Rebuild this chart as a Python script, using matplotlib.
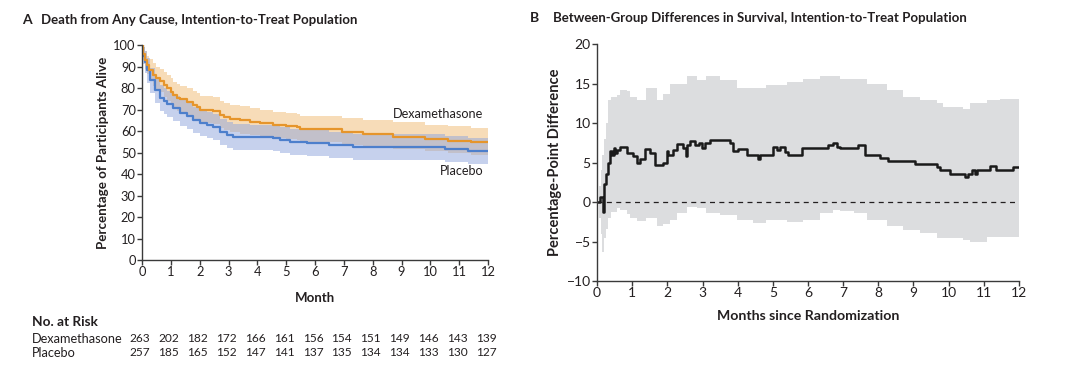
import numpy as np
import matplotlib
matplotlib.use("Agg")
import matplotlib.pyplot as plt
import matplotlib.transforms as mtransforms

plt.rcParams['font.family'] = ['Lato', 'DejaVu Sans']

# Panel A: Kaplan-Meier survival (percent alive), step knots
dex_months = [0, 0.05, 0.1, 0.16, 0.25, 0.39, 0.5, 0.62, 0.75, 0.86, 1.0, 1.09, 1.2, 1.32, 1.55,
              1.78, 1.9, 2.01, 2.47, 2.7, 2.85, 3.05, 3.4, 3.75, 4.1, 4.55, 5.0, 5.37, 5.48, 6.93,
              7.68, 8.7, 9.8, 10.6, 11.4, 12]
dex_surv = [100, 96, 93, 90.7, 88.5, 86, 84.5, 83.4, 81.5, 79.8, 78, 76.7, 75.5, 74.7, 73.6,
            72.1, 71, 69.8, 69.5, 67.4, 66.5, 65.6, 65, 64.3, 63.5, 62.8, 62.4, 62, 60.8, 59.7,
            58.5, 57.4, 56.3, 55.5, 54.7, 54.7]
dex_upper = [100, 99, 97, 95, 93.5, 91.5, 90, 89, 87.5, 86, 84.5, 83, 82, 81, 80,
             78.5, 77.5, 76.5, 76, 74, 73, 72, 71.5, 70.5, 70, 69, 68.5, 68, 67, 66,
             65, 64, 63, 62.3, 61.5, 61.5]
dex_lower = [100, 93, 89, 86.5, 84, 81, 79.5, 78, 76, 74, 72, 70.5, 69.5, 68.5, 67.2,
             65.8, 64.6, 63.5, 63.2, 61.2, 60.3, 59.4, 58.8, 58.1, 57.4, 56.7, 56.3, 55.9, 54.7, 53.6,
             52.5, 51.5, 50.5, 49.7, 49, 49]

pla_months = [0, 0.05, 0.1, 0.16, 0.28, 0.45, 0.62, 0.75, 0.86, 1.09, 1.32, 1.55, 1.78, 2.01, 2.24,
              2.47, 2.7, 2.94, 3.17, 3.75, 4.55, 4.79, 5.13, 5.71, 6.5, 7.3, 10.5, 11.3, 12]
pla_surv = [100, 95, 92, 88.4, 83.7, 79, 75.2, 73.8, 72.6, 70.5, 68.2, 67, 65.1, 63.6, 62.8,
            61.7, 59.7, 58.1, 57.3, 57, 56.6, 55.8, 55, 54.3, 53.5, 52.7, 51.6, 50.8, 50.8]
pla_upper = [100, 99, 97, 94, 89.5, 85, 81.3, 79.8, 78.6, 76.5, 74.2, 73, 71.1, 69.6, 68.8,
             67.7, 65.7, 64.1, 63.3, 63, 62.6, 61.8, 61, 60.3, 59.5, 58.7, 57.6, 56.8, 56.8]
pla_lower = [100, 91, 87, 82.5, 77.7, 73, 69.2, 67.8, 66.6, 64.5, 62.2, 61, 59.1, 57.6, 56.8,
             55.7, 53.7, 52.1, 51.3, 51, 50.6, 49.8, 49, 48.3, 47.5, 46.7, 45.6, 44.8, 44.8]

# Number at risk
risk_months = list(range(13))
dex_risk = [263, 202, 182, 172, 166, 161, 156, 154, 151, 149, 146, 143, 139]
pla_risk = [257, 185, 165, 152, 147, 141, 137, 135, 134, 134, 133, 130, 127]

# Panel B: between-group difference (percentage points)
diff_months = [0, 0.085, 0.16, 0.21, 0.26, 0.32, 0.37, 0.42, 0.47, 0.52, 0.57, 0.65, 0.84, 1.03,
               1.13, 1.22, 1.36, 1.51, 1.65, 1.89, 1.98, 2.03, 2.15, 2.27, 2.45, 2.52, 2.55, 2.64,
               2.79, 2.9, 2.98, 3.07, 3.21, 3.78, 3.88, 4.02, 4.26, 4.59, 4.63, 5.01, 5.11, 5.20,
               5.35, 5.44, 5.82, 6.58, 6.72, 6.82, 6.91, 7.43, 7.62, 8.05, 8.28, 9.04, 9.66, 9.75,
               10.04, 10.46, 10.56, 10.65, 10.75, 10.80, 11.18, 11.36, 11.84, 12]
diff_vals = [0, 0.6, -1.3, 2.3, 3.5, 5.0, 6.5, 6.0, 6.8, 6.2, 6.6, 7.0, 6.2, 5.8,
             5.0, 5.5, 6.7, 6.2, 4.7, 5.0, 6.5, 6.0, 6.6, 7.3, 6.8, 5.8, 7.2, 7.7,
             7.2, 7.5, 6.8, 7.5, 7.9, 7.5, 6.4, 6.7, 6.0, 5.5, 6.0, 7.0, 6.6, 7.0,
             6.3, 6.0, 6.8, 7.2, 7.5, 7.0, 6.8, 7.2, 6.0, 5.6, 5.2, 4.8, 4.4, 4.0,
             3.6, 3.2, 3.6, 4.0, 3.6, 4.0, 4.5, 4.0, 4.4, 4.4]
band_months = [0, 0.05, 0.1, 0.15, 0.2, 0.25, 0.32, 0.4, 0.56, 0.65, 0.84, 0.94, 1.13, 1.4, 1.7,
               1.89, 2.08, 2.27, 2.55, 2.83, 3.1, 3.5, 3.97, 4.45, 4.8, 5.4, 5.87, 6.34, 6.72,
               6.9, 7.3, 7.67, 8.24, 8.7, 9.18, 9.66, 9.85, 10.14, 10.4, 10.6, 11.08, 11.46, 12]
band_upper = [0, 2, 4, 6, 8, 10, 12.9, 13.3, 13.5, 14.2, 14.0, 13.3, 12.9, 14.4, 12.9,
              13.7, 15.0, 15.0, 15.9, 15.4, 16.0, 15.4, 14.4, 14.4, 14.8, 15.2, 15.6, 15.9, 15.9,
              15.6, 15.6, 15.0, 14.2, 13.3, 12.9, 12.5, 12.0, 12.0, 11.8, 12.5, 12.9, 13.0, 13.0]
band_lower = [0, -2, -4, -6.3, -4.5, -3.4, -2, -1.3, -0.7, -1.0, -1.5, -2.0, -2.4, -2.0, -3.1,
              -2.8, -2.3, -1.4, -0.6, -0.8, -1.4, -1.6, -2.3, -2.7, -2.3, -2.5, -2.3, -1.4, -1.0,
              -1.2, -1.4, -2.3, -3.1, -3.5, -3.9, -4.5, -4.5, -4.6, -4.8, -5.0, -4.4, -4.4, -4.0]

DEX_COLOR = '#e6952b'
PLA_COLOR = '#4d7fcc'
AXIS_COLOR = '#3a3a3a'
TEXT_COLOR = '#231f20'

fig = plt.figure(figsize=(10.8, 3.86), dpi=100)
axA = fig.add_axes([0.1315, 0.3264, 0.3204, 0.557])
axB = fig.add_axes([0.5528, 0.272, 0.3907, 0.614])


def style_axis(ax, size):
    for side in ['top', 'right']:
        ax.spines[side].set_visible(False)
    for side in ['left', 'bottom']:
        ax.spines[side].set_color(AXIS_COLOR)
        ax.spines[side].set_linewidth(1.0)
    ax.tick_params(direction='out', length=3.5, width=1.0, color=AXIS_COLOR,
                   labelsize=size, labelcolor=TEXT_COLOR, pad=1)


# Panel A
axA.fill_between(dex_months, dex_lower, dex_upper, step='post', color='#f2c58a', alpha=0.6, lw=0)
axA.fill_between(pla_months, pla_lower, pla_upper, step='post', color='#8fa5dc', alpha=0.5, lw=0)
axA.plot(pla_months, pla_surv, drawstyle='steps-post', color=PLA_COLOR, lw=1.6)
axA.plot(dex_months, dex_surv, drawstyle='steps-post', color=DEX_COLOR, lw=1.6)
axA.set_xlim(0, 12)
axA.set_ylim(0, 100)
axA.set_xticks(range(13))
axA.set_yticks(range(0, 101, 10))
style_axis(axA, 9.3)
axA.set_xlabel('Month', fontsize=9.5, fontweight='bold', color=TEXT_COLOR, labelpad=10)
axA.set_ylabel('Percentage of Participants Alive', fontsize=9.6, fontweight='bold',
               color=TEXT_COLOR, labelpad=3)
axA.text(11.83, 67.9, 'Dexamethasone', ha='right', va='center', fontsize=9.1, color=TEXT_COLOR)
axA.text(11.83, 41.4, 'Placebo', ha='right', va='center', fontsize=9.1, color=TEXT_COLOR)

# No. at risk table
trans = mtransforms.blended_transform_factory(axA.transData, fig.transFigure)
trans = trans + mtransforms.ScaledTranslation(-2 / 100, 0, fig.dpi_scale_trans)
fig.text(32 / 1080, 1 - 322 / 386, 'No. at Risk', fontsize=9.8, fontweight='bold',
         color=TEXT_COLOR, va='center')
fig.text(32 / 1080, 1 - 339 / 386, 'Dexamethasone', fontsize=9.2, color=TEXT_COLOR, va='center')
fig.text(32 / 1080, 1 - 353 / 386, 'Placebo', fontsize=9.2, color=TEXT_COLOR, va='center')
for m, d, p in zip(risk_months, dex_risk, pla_risk):
    axA.text(m, 1 - 339 / 386, str(d), transform=trans, ha='center', va='center',
             fontsize=8.6, color=TEXT_COLOR)
    axA.text(m, 1 - 353 / 386, str(p), transform=trans, ha='center', va='center',
             fontsize=8.6, color=TEXT_COLOR)

# Panel B
axB.fill_between(band_months, band_lower, band_upper, step='post', color='#dcdddf', lw=0)
axB.axhline(0, color='#231f20', lw=0.9, ls=(0, (4, 3.5)))
axB.plot(diff_months, diff_vals, drawstyle='steps-post', color='#1a1a1a', lw=1.8)
axB.set_xlim(0, 12)
axB.set_ylim(-10, 20)
axB.set_xticks(range(13))
axB.set_yticks(range(-10, 21, 5))
style_axis(axB, 10)
axB.set_xlabel('Months since Randomization', fontsize=10.2, fontweight='bold', color=TEXT_COLOR,
               labelpad=8)
axB.set_ylabel('Percentage-Point Difference', fontsize=10.5, fontweight='bold', color=TEXT_COLOR,
               labelpad=3)

# Panel titles
fig.text(22 / 1080, 1 - 20 / 386, 'A', fontsize=10, fontweight='bold', color=TEXT_COLOR, va='center')
fig.text(41 / 1080, 1 - 20 / 386, 'Death from Any Cause, Intention-to-Treat Population',
         fontsize=9.5, fontweight='bold', color=TEXT_COLOR, va='center')
fig.text(530 / 1080, 1 - 18 / 386, 'B', fontsize=10, fontweight='bold', color=TEXT_COLOR, va='center')
fig.text(553 / 1080, 1 - 18 / 386, 'Between-Group Differences in Survival, Intention-to-Treat Population',
         fontsize=9.5, fontweight='bold', color=TEXT_COLOR, va='center')

fig.savefig('out.png', dpi=100)
